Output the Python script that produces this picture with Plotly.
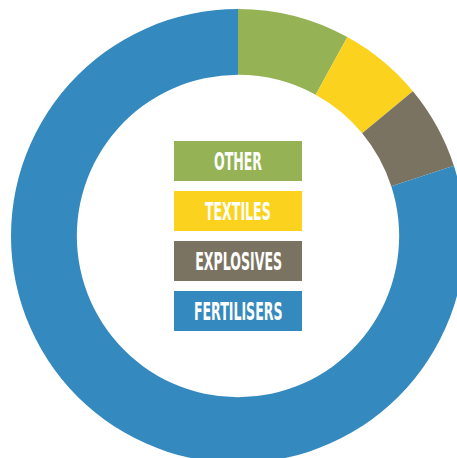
import plotly.graph_objects as go

categories = ["OTHER", "TEXTILES", "EXPLOSIVES", "FERTILISERS"]
values = [8, 6, 6, 80]
colors = ["#95b254", "#fbd31f", "#7b7361", "#348abe"]

W, H = 476, 472
cx, cy, R = 238, 236, 227

fig = go.Figure(go.Pie(
    labels=categories, values=values, sort=False, direction="clockwise",
    rotation=0, hole=0.71, textinfo="none", hoverinfo="label+percent",
    marker=dict(colors=colors, line=dict(width=0)),
    domain=dict(x=[(cx - R) / W, (cx + R) / W], y=[(H - cy - R) / H, (H - cy + R) / H]),
))

box_tops = [141, 191, 241, 291]
box_w, box_h = 128, 40
annotations, shapes = [], []
for cat, col, top in zip(categories, colors, box_tops):
    shapes.append(dict(
        type="rect", xref="paper", yref="paper", layer="above",
        x0=(cx - box_w / 2) / W, x1=(cx + box_w / 2) / W,
        y0=(H - top - box_h) / H, y1=(H - top) / H,
        fillcolor=col, line=dict(width=0),
    ))
    annotations.append(dict(
        text="<b>" + cat + "</b>", xref="paper", yref="paper",
        x=cx / W, y=(H - (top + box_h / 2)) / H, xanchor="center", yanchor="middle",
        showarrow=False, borderpad=0,
        font=dict(family="DejaVu Sans Condensed, sans-serif", size=25, color="white"),
        align="center", valign="middle",
    ))

fig.update_layout(
    width=W, height=H, margin=dict(l=0, r=0, t=0, b=0), showlegend=False,
    paper_bgcolor="white", plot_bgcolor="white", annotations=annotations, shapes=shapes,
)

post = """
document.body.style.margin='0';
document.body.style.overflow='hidden';
document.documentElement.style.overflow='hidden';
var st=document.createElement('style');
st.textContent='.annotation-text{transform-box:fill-box;transform-origin:center;transform:scaleX(0.56);}';
document.head.appendChild(st);
"""
fig.write_html("out.html", post_script=post, config={"displayModeBar": False})
